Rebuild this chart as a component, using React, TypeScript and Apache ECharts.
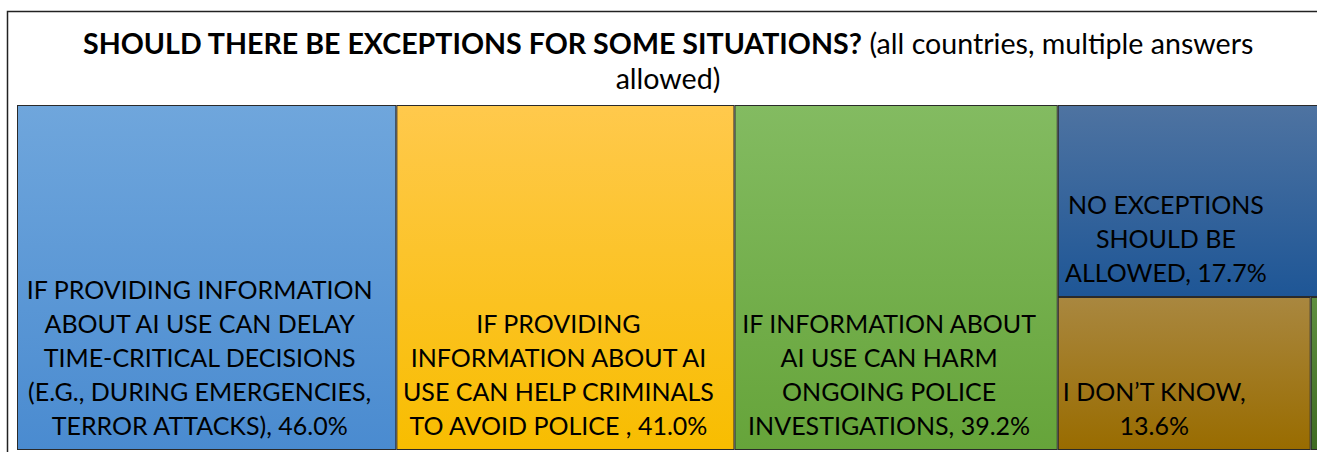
import React, { useEffect, useRef } from "react";
import * as echarts from "echarts";

const titleBold = "SHOULD THERE BE EXCEPTIONS FOR SOME SITUATIONS?";
const titleNormalLine1 = " (all countries, multiple answers";
const titleNormalLine2 = "allowed)";

const categories = [
  "IF PROVIDING INFORMATION ABOUT AI USE CAN DELAY TIME-CRITICAL DECISIONS (E.G., DURING EMERGENCIES, TERROR ATTACKS)",
  "IF PROVIDING INFORMATION ABOUT AI USE CAN HELP CRIMINALS TO AVOID POLICE ",
  "IF INFORMATION ABOUT AI USE CAN HARM ONGOING POLICE INVESTIGATIONS",
  "NO EXCEPTIONS SHOULD BE ALLOWED",
  "I DON’T KNOW",
  "OTHER",
];

// label templates, {v} is replaced by the value
const labelTemplates = [
  "IF PROVIDING INFORMATION\nABOUT AI USE CAN DELAY\nTIME-CRITICAL DECISIONS\n(E.G., DURING EMERGENCIES,\nTERROR ATTACKS), {v}",
  "IF PROVIDING\nINFORMATION ABOUT AI\nUSE CAN HELP CRIMINALS\nTO AVOID POLICE , {v}",
  "IF INFORMATION ABOUT\nAI USE CAN HARM\nONGOING POLICE\nINVESTIGATIONS, {v}",
  "NO EXCEPTIONS\nSHOULD BE\nALLOWED, {v}",
  "I DON’T KNOW,\n{v}",
  "",
];

const values = [46.0, 41.0, 39.2, 17.7, 13.6, 0.5];

const topColors = ["#6FA6DC", "#FFC94C", "#83BB61", "#4E73A1", "#A9873F", "#5E8F40"];
const bottomColors = ["#4A8BD0", "#F8BD00", "#66A43A", "#1E5696", "#996C00", "#3F6B22"];
const labelPadRight = [14, 14, 14, 46, 60, 0];

const FONT = "Lato";

export default function App() {
  const ref = useRef<HTMLDivElement>(null);
  useEffect(() => {
    if (!ref.current) return;
    const chart = echarts.init(ref.current, null, { renderer: "svg" });
    const data = categories.map((name, i) => ({
      name,
      value: values[i],
      itemStyle: {
        color: new echarts.graphic.LinearGradient(0, 0, 0, 1, [
          { offset: 0, color: topColors[i] },
          { offset: 1, color: bottomColors[i] },
        ]),
      },
      label: {
        show: labelTemplates[i] !== "",
        formatter: labelTemplates[i].replace("{v}", values[i].toFixed(1) + "%"),
        padding: [0, labelPadRight[i], 7, 0],
      },
    }));
    chart.setOption({
      animation: false,
      graphic: [
        {
          type: "rect",
          shape: { x: 7.5, y: 11.5, width: 1400, height: 500 },
          style: { fill: "none", stroke: "#222", lineWidth: 1.5 },
          silent: true,
          z: 10,
        },
        {
          type: "text",
          x: 668,
          y: 25,
          style: {
            text: `{b|${titleBold}}{n|${titleNormalLine1}}\n{n|${titleNormalLine2}}`,
            align: "center",
            verticalAlign: "top",
            fill: "#000",
            rich: {
              b: { fontFamily: FONT, fontWeight: "bold", fontSize: 28.6, lineHeight: 35, fill: "#000" },
              n: { fontFamily: FONT, fontWeight: "normal", fontSize: 28.6, lineHeight: 35, fill: "#000" },
            },
          },
        },
      ],
      series: [
        {
          type: "treemap",
          left: 17,
          top: 105,
          width: 1303,
          height: 345,
          squareRatio: 1,
          roam: false,
          nodeClick: false,
          sort: "desc",
          breadcrumb: { show: false },
          visibleMin: 0,
          levels: [
            { itemStyle: { borderWidth: 0, gapWidth: 0 } },
            { itemStyle: { borderWidth: 1, borderColor: "#2a2a2a", gapWidth: 0 } },
          ],
          label: {
            show: true,
            position: "insideBottom",
            color: "#000",
            fontFamily: FONT,
            fontSize: 25,
            lineHeight: 34,
            align: "center",
            overflow: "none",
          },
          data,
        },
      ],
    });
    return () => chart.dispose();
  }, []);
  return (
    <div
      ref={ref}
      style={{ position: "fixed", left: 0, top: 0, width: 1317, height: 452, background: "#fff" }}
    />
  );
}
